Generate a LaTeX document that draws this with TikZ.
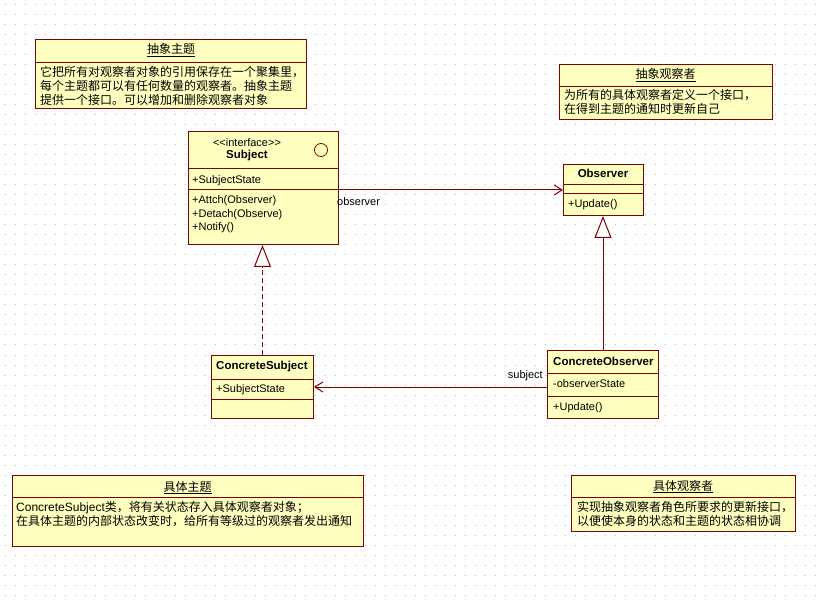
\documentclass[tikz,border=0pt]{standalone}
\usepackage{fontspec}
\newfontfamily\umlfont{Liberation Sans}
\newfontfamily\cjk{Noto Sans CJK SC}
\usetikzlibrary{arrows.meta}

\definecolor{umlred}{RGB}{128,0,0}
\definecolor{umlfill}{RGB}{255,255,192}
\definecolor{griddot}{RGB}{185,185,185}

\tikzset{
  umlbox/.style={draw=umlred, fill=umlfill, line width=1pt, anchor=north west, inner sep=0pt},
  sepline/.style={draw=umlred, line width=1pt},
  umltext/.style={anchor=base west, inner sep=0pt, font=\umlfont\fontsize{11}{13}\selectfont},
  umltitle/.style={anchor=base west, inner sep=0pt, font=\umlfont\bfseries\fontsize{11.5}{13}\selectfont},
  notetext/.style={anchor=north west, inner sep=0pt, align=left, font=\cjk\fontsize{12}{14}\selectfont},
  notetitle/.style={anchor=base, inner sep=0pt, font=\cjk\fontsize{12}{14}\selectfont},
  assoc/.style={draw=umlred, line width=1pt, -{Straight Barb[length=8pt,width=10pt]}},
  realize/.style={draw=umlred, line width=1pt, dash pattern=on 5pt off 3pt,
    -{Triangle[open,length=22pt,width=17pt,fill=white]}},
  general/.style={draw=umlred, line width=1pt,
    -{Triangle[open,length=22pt,width=17pt,fill=white]}}
}

\begin{document}
\begin{tikzpicture}[x=1pt, y=-1pt]
\useasboundingbox (0,0) rectangle (820,604);
\fill[white] (0,0) rectangle (820,604);
% dot grid
\foreach \gy in {5,15,...,600}
  \draw[griddot, line width=1pt, dash pattern=on 1pt off 9pt] (4.5,\gy) -- (820,\gy);

% notes
\node[umlbox, minimum width=271, minimum height=69] (notesubj) at (35,39) {};
\draw[sepline] ([yshift=-24]notesubj.north west) -- ([yshift=-24]notesubj.north east);
\node[notetitle] (notesubjtitle) at (171,54) {\underline{抽象主题}};
\node[notetext] (notesubjtext) at (40,66.4) {它把所有对观察者对象的引用保存在一个聚集里，\\每个主题都可以有任何数量的观察者。抽象主题\\提供一个接口。可以增加和删除观察者对象};

\node[umlbox, minimum width=213, minimum height=55] (noteobs) at (559,64) {};
\draw[sepline] ([yshift=-23]noteobs.north west) -- ([yshift=-23]noteobs.north east);
\node[notetitle] (noteobstitle) at (665.5,79) {\underline{抽象观察者}};
\node[notetext] (noteobstext) at (564,89.4) {为所有的具体观察者定义一个接口，\\在得到主题的通知时更新自己};

\node[umlbox, minimum width=351, minimum height=71] (notecsubj) at (12,475) {};
\draw[sepline] ([yshift=-22]notecsubj.north west) -- ([yshift=-22]notecsubj.north east);
\node[notetitle] (notecsubjtitle) at (187.5,491) {\underline{具体主题}};
\node[notetext] (notecsubjtext) at (16,501.4) {{\umlfont ConcreteSubject}类，将有关状态存入具体观察者对象；\\在具体主题的内部状态改变时，给所有等级过的观察者发出通知};

\node[umlbox, minimum width=224, minimum height=56] (notecobs) at (571,475) {};
\draw[sepline] ([yshift=-22]notecobs.north west) -- ([yshift=-22]notecobs.north east);
\node[notetitle] (notecobstitle) at (683,490) {\underline{具体观察者}};
\node[notetext] (notecobstext) at (577,501.4) {实现抽象观察者角色所要求的更新接口，\\以便使本身的状态和主题的状态相协调};

% classes
\node[umlbox, minimum width=150, minimum height=113] (subject) at (188,131) {};
\draw[sepline] ([yshift=-38]subject.north west) -- ([yshift=-38]subject.north east);
\draw[sepline] ([yshift=-59]subject.north west) -- ([yshift=-59]subject.north east);
\node[umltext, anchor=base] (subjstereo) at (247,147) {<<interface>>};
\node[umltitle, anchor=base] (subjname) at (247,159) {Subject};
\node[draw=umlred, circle, minimum size=13, inner sep=0pt, line width=0.8pt] (subjicon) at (321,150) {};
\node[umltext] (subjattr) at (192,184) {+SubjectState};
\node[umltext] (subjop1) at (192,204) {+Attch(Observer)};
\node[umltext] (subjop2) at (192,217.5) {+Detach(Observe)};
\node[umltext] (subjop3) at (192,231) {+Notify()};

\node[umlbox, minimum width=80, minimum height=51] (observer) at (563,164) {};
\draw[sepline] ([yshift=-21]observer.north west) -- ([yshift=-21]observer.north east);
\draw[sepline] ([yshift=-30]observer.north west) -- ([yshift=-30]observer.north east);
\node[umltitle, anchor=base] (obsname) at (603,178) {Observer};
\node[umltext] (obsop) at (568,208) {+Update()};

\node[umlbox, minimum width=102, minimum height=63] (csubject) at (211,355) {};
\draw[sepline] ([yshift=-24]csubject.north west) -- ([yshift=-24]csubject.north east);
\draw[sepline] ([yshift=-44]csubject.north west) -- ([yshift=-44]csubject.north east);
\node[umltitle] (csubjname) at (216,370) {ConcreteSubject};
\node[umltext] (csubjattr) at (216,392) {+SubjectState};

\node[umlbox, minimum width=111, minimum height=68] (cobserver) at (547,350) {};
\draw[sepline] ([yshift=-23]cobserver.north west) -- ([yshift=-23]cobserver.north east);
\draw[sepline] ([yshift=-46]cobserver.north west) -- ([yshift=-46]cobserver.north east);
\node[umltitle] (cobsname) at (553,366) {ConcreteObserver};
\node[umltext] (cobsattr) at (553,388) {-observerState};
\node[umltext] (cobsop) at (553,410) {+Update()};

% relations
\draw[assoc] (subject.east |- observer.west) -- (observer.west);
\node[umltext] (lblobserver) at (337,206) {observer};
\draw[assoc] (cobserver.west |- csubject.east) -- (csubject.east);
\node[umltext, anchor=base east] (lblsubject) at (543,378) {subject};
\draw[realize] (csubject.north) -- (csubject.north |- subject.south);
\draw[general] (cobserver.north) -- (cobserver.north |- observer.south);
\end{tikzpicture}
\end{document}
